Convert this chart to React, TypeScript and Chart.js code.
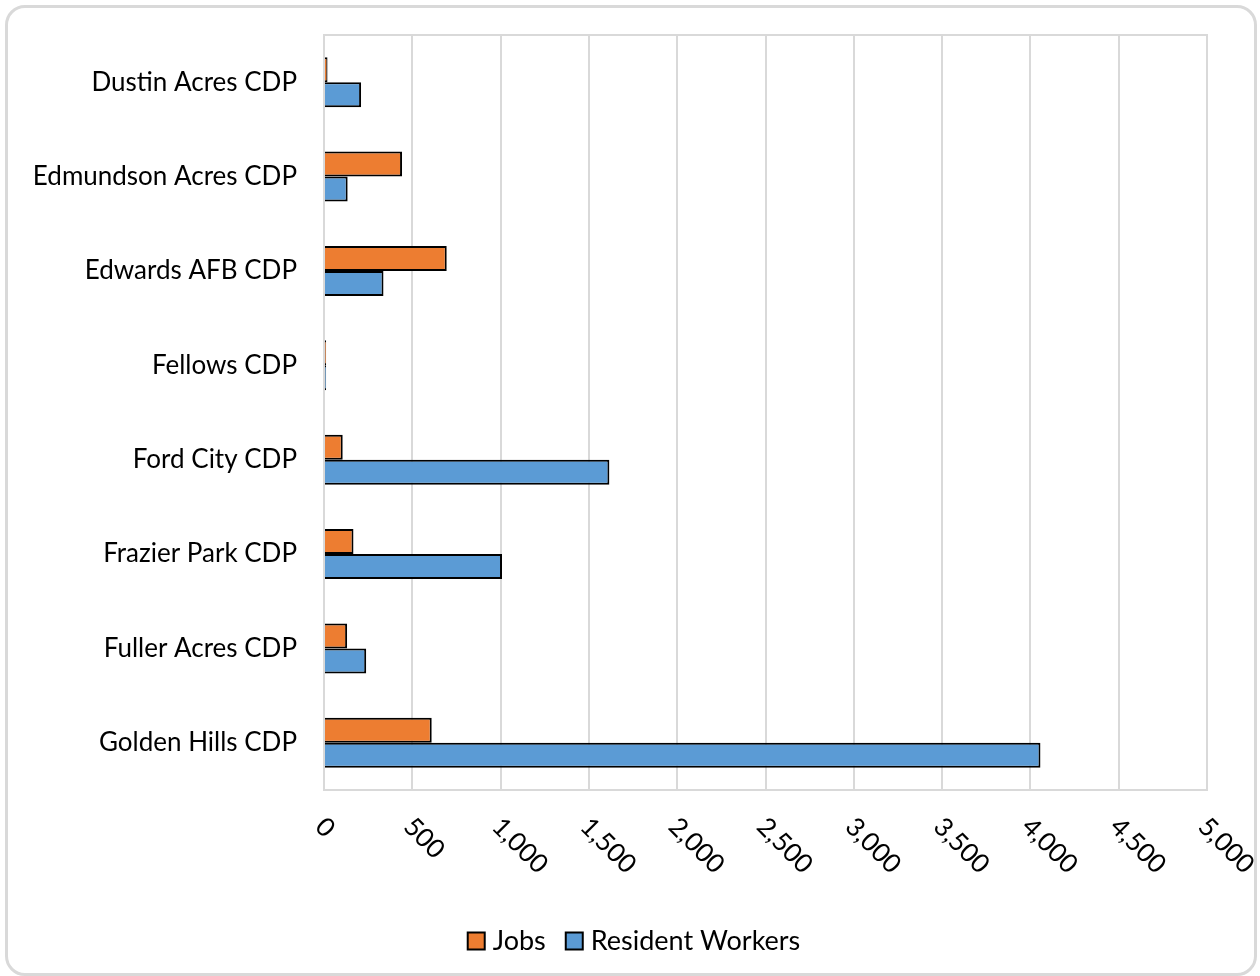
import React, { useEffect, useRef } from "react";
import { Chart, registerables } from "chart.js";

Chart.register(...registerables);

const categories = [
  "Dustin Acres CDP",
  "Edmundson Acres CDP",
  "Edwards AFB CDP",
  "Fellows CDP",
  "Ford City CDP",
  "Frazier Park CDP",
  "Fuller Acres CDP",
  "Golden Hills CDP",
];
const jobs = [20, 442, 695, 12, 106, 167, 131, 610];
const residentWorkers = [210, 134, 337, 12, 1616, 1008, 239, 4057];
const seriesNames = ["Jobs", "Resident Workers"];
const seriesColors = ["#ED7D31", "#5B9BD5"];
const xMin = 0;
const xMax = 5000;
const xStep = 500;

const FONT = "Lato, 'Open Sans', sans-serif";

const plotBorder = {
  id: "plotBorder",
  beforeDatasetsDraw(chart: any) {
    const { ctx, chartArea } = chart;
    ctx.save();
    ctx.strokeStyle = "#d9d9d9";
    ctx.lineWidth = 2;
    ctx.strokeRect(chartArea.left, chartArea.top, chartArea.right - chartArea.left, chartArea.bottom - chartArea.top);
    ctx.restore();
  },
};

const rotatedTicks = {
  id: "rotatedTicks",
  afterDraw(chart: any) {
    const s = chart.scales.x;
    const ctx = chart.ctx;
    ctx.save();
    ctx.font = `26px ${FONT}`;
    ctx.fillStyle = "#000";
    ctx.textAlign = "left";
    ctx.textBaseline = "top";
    s.ticks.forEach((t: any) => {
      const x = s.getPixelForValue(t.value);
      ctx.save();
      ctx.translate(x + 5, chart.chartArea.bottom + 23);
      ctx.rotate(Math.PI / 4);
      ctx.fillText(Number(t.value).toLocaleString("en-US"), 0, 0);
      ctx.restore();
    });
    ctx.restore();
  },
};

const customLegend = {
  id: "customLegend",
  afterDraw(chart: any) {
    const ctx = chart.ctx;
    const datasets = chart.data.datasets;
    ctx.save();
    ctx.font = `27px ${FONT}`;
    ctx.textAlign = "left";
    ctx.textBaseline = "middle";
    const box = 17;
    const gap = 8;
    const itemGap = 20;
    const widths = datasets.map((d: any) => box + gap + ctx.measureText(d.label).width);
    const total = widths.reduce((a: number, b: number) => a + b, 0) + itemGap * (datasets.length - 1);
    const cx = 634;
    const cy = 941;
    let x = cx - total / 2;
    datasets.forEach((d: any, i: number) => {
      ctx.fillStyle = d.backgroundColor;
      ctx.fillRect(x, cy - box / 2, box, box);
      ctx.strokeStyle = "#000";
      ctx.lineWidth = 2;
      ctx.strokeRect(x, cy - box / 2, box, box);
      ctx.fillStyle = "#000";
      ctx.fillText(d.label, x + box + gap, cy);
      x += widths[i] + itemGap;
    });
    ctx.restore();
  },
};

export default function App() {
  const ref = useRef<HTMLCanvasElement | null>(null);
  useEffect(() => {
    let chart: Chart | null = null;
    let cancelled = false;
    const make = () => {
      if (cancelled || !ref.current) return;
      chart = new Chart(ref.current, {
        type: "bar",
        data: {
          labels: categories,
          datasets: [
            {
              label: seriesNames[0],
              data: jobs,
              backgroundColor: seriesColors[0],
              borderColor: "#000",
              borderWidth: 2,
              barPercentage: 1,
              categoryPercentage: 0.53,
            },
            {
              label: seriesNames[1],
              data: residentWorkers,
              backgroundColor: seriesColors[1],
              borderColor: "#000",
              borderWidth: 2,
              barPercentage: 1,
              categoryPercentage: 0.53,
            },
          ],
        },
        options: {
          indexAxis: "y",
          animation: false,
          responsive: false,
          maintainAspectRatio: false,
          layout: { padding: { top: 35, right: 53, bottom: 12, left: 0 } },
          scales: {
            x: {
              min: xMin,
              max: xMax,
              ticks: { stepSize: xStep, display: false },
              grid: { color: "#d9d9d9", lineWidth: 2, drawTicks: false },
              border: { display: false },
              afterFit: (s: any) => {
                s.height = 174;
              },
            },
            y: {
              ticks: { color: "#000", font: { family: FONT, size: 26 }, padding: 0 },
              grid: { display: true, color: "rgba(0,0,0,0)", drawTicks: true, tickLength: 27, drawOnChartArea: false },
              border: { display: false },
              afterFit: (s: any) => {
                s.width = 324;
              },
            },
          },
          plugins: {
            legend: { display: false },
            tooltip: { enabled: false },
          },
        },
        plugins: [plotBorder, rotatedTicks, customLegend],
      });
    };
    if ((document as any).fonts && (document as any).fonts.load) {
      (document as any).fonts.load(`26px Lato`).then(make, make);
    } else make();
    return () => {
      cancelled = true;
      if (chart) chart.destroy();
    };
  }, []);
  return (
    <div style={{ position: "fixed", left: 0, top: 0, width: 1260, height: 976, background: "#fff" }}>
      <canvas ref={ref} width={1260} height={976} style={{ position: "absolute", left: 0, top: 0, width: 1260, height: 976 }} />
      <div
        style={{
          position: "absolute",
          left: 5,
          top: 5,
          width: 1252,
          height: 971,
          boxSizing: "border-box",
          border: "3px solid #d9d9d9",
          borderRadius: 20,
          pointerEvents: "none",
        }}
      />
    </div>
  );
}
